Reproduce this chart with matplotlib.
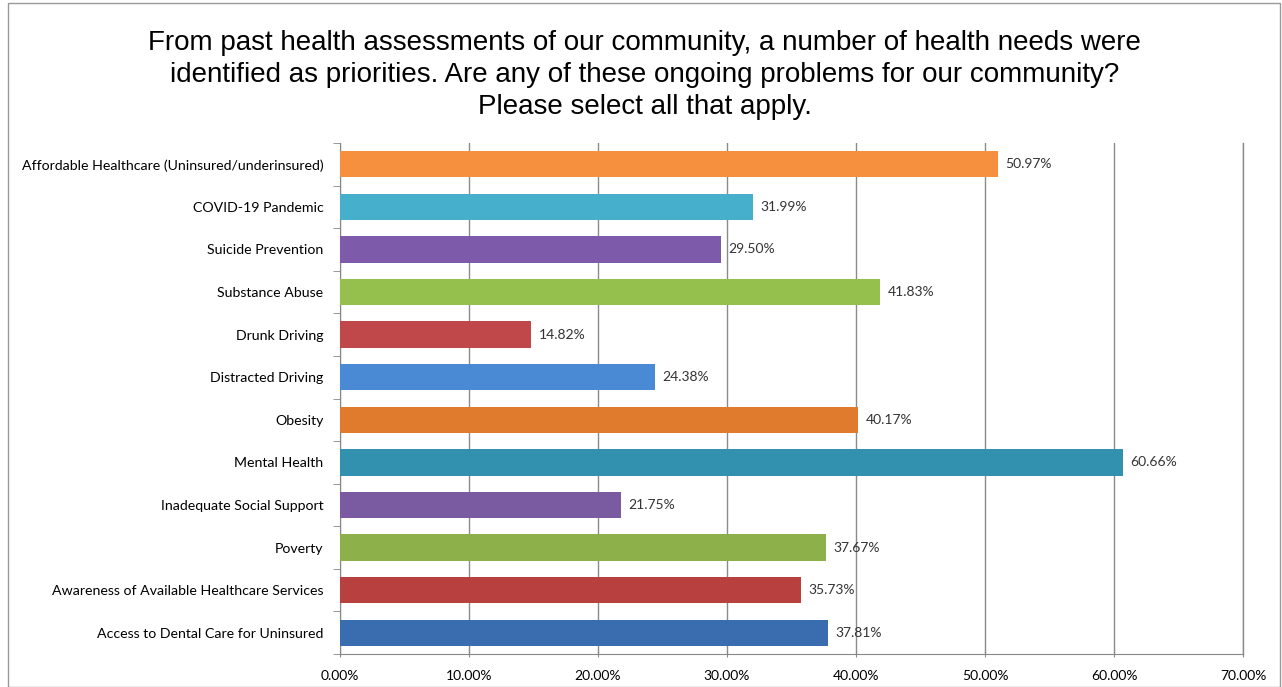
import matplotlib.pyplot as plt
from matplotlib.ticker import FuncFormatter
from matplotlib.patches import Rectangle

# categories listed bottom to top
categories = ['Access to Dental Care for Uninsured',
              'Awareness of Available Healthcare Services',
              'Poverty',
              'Inadequate Social Support',
              'Mental Health',
              'Obesity',
              'Distracted Driving',
              'Drunk Driving',
              'Substance Abuse',
              'Suicide Prevention',
              'COVID-19 Pandemic',
              'Affordable Healthcare (Uninsured/underinsured)']
values = [37.81, 35.73, 37.67, 21.75, 60.66, 40.17, 24.38, 14.82, 41.83, 29.50, 31.99, 50.97]
colors = ['#3A6DB0', '#B8403E', '#8DB04A', '#7A5AA0', '#3191AE', '#E07A2C',
          '#4A8AD4', '#C0484A', '#96C04E', '#7E5AAA', '#45AFCC', '#F7903E']
xticks = [0, 10, 20, 30, 40, 50, 60, 70]

plt.rcParams['font.family'] = ['Lato', 'DejaVu Sans']

fig = plt.figure(figsize=(12.82, 6.87), dpi=100)
ax = fig.add_axes([340 / 1282, 1 - 654 / 687, (1243 - 340) / 1282, (654 - 143) / 687])

ypos = range(len(categories))
ax.barh(ypos, values, height=0.62, color=colors, zorder=3)
for y, v in zip(ypos, values):
    ax.text(v + 0.6, y, '%.2f%%' % v, va='center', ha='left', fontsize=10, color='#333333')

ax.set_xlim(0, 70)
ax.set_ylim(-0.5, len(categories) - 0.5)
ax.set_xticks(xticks)
ax.xaxis.set_major_formatter(FuncFormatter(lambda x, p: '%.2f%%' % x))
ax.set_yticks(list(ypos))
ax.set_yticklabels(categories)
ax.tick_params(axis='y', labelsize=10.2, length=0, pad=12)
ax.tick_params(axis='x', labelsize=10, length=5, color='#888888', pad=9, direction='inout')
ax.set_yticks([i - 0.5 for i in range(len(categories) + 1)], minor=True)
ax.tick_params(axis='y', which='minor', length=5, color='#888888', direction='out')
ax.grid(axis='x', color='#8a8a8a', linewidth=1, zorder=0)
ax.axvline(70, color='#8a8a8a', linewidth=1, zorder=0, clip_on=False)
for s in ['top', 'right']:
    ax.spines[s].set_visible(False)
ax.spines['left'].set_color('#888888')
ax.spines['bottom'].set_color('#888888')

fig.text(0.503, 1 - 75 / 687,
         'From past health assessments of our community, a number of health needs were\n'
         'identified as priorities. Are any of these ongoing problems for our community?\n'
         'Please select all that apply.',
         ha='center', va='center', fontsize=20, family=['Liberation Sans', 'DejaVu Sans'],
         linespacing=1.32)

fig.patches.append(Rectangle((8 / 1282, 0), 1 - 8 / 1282 - 2 / 1282, 1 - 3 / 687,
                             transform=fig.transFigure, fill=False, edgecolor='#999999', linewidth=1))

fig.savefig('out.png', dpi=100)
